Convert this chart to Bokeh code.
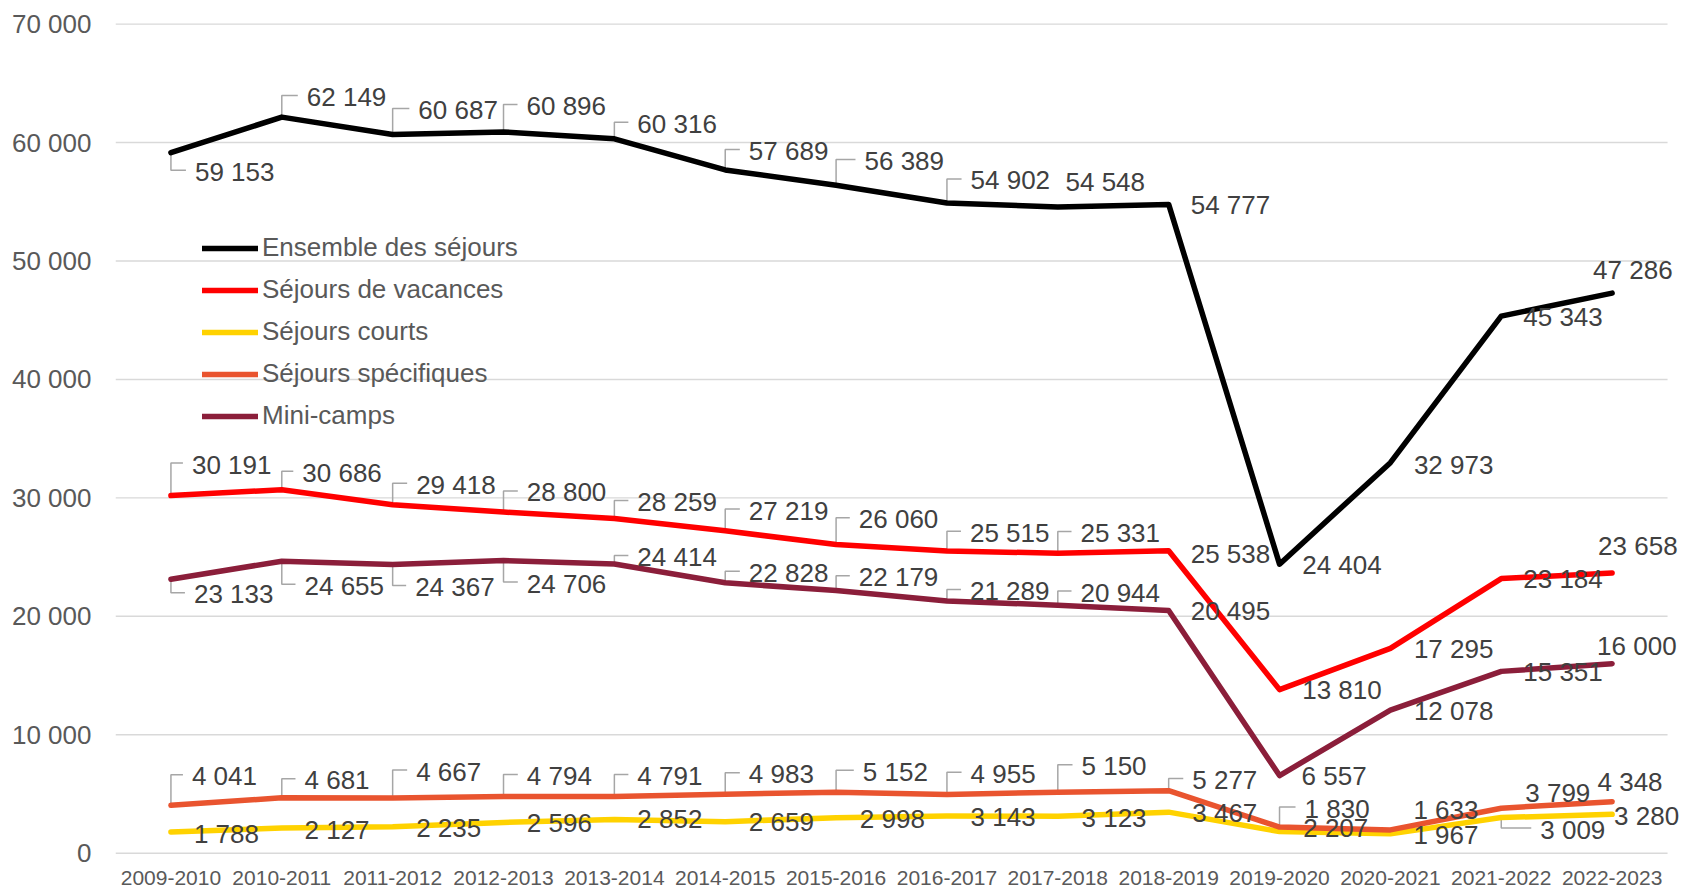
from bokeh.plotting import figure
from bokeh.models import Range1d, Legend, LegendItem, FixedTicker
from bokeh.embed import file_html
from bokeh.resources import INLINE
from bokeh.core.properties import value

# ---------------- data ----------------
seasons = ["2009-2010", "2010-2011", "2011-2012", "2012-2013", "2013-2014",
           "2014-2015", "2015-2016", "2016-2017", "2017-2018", "2018-2019",
           "2019-2020", "2020-2021", "2021-2022", "2022-2023"]
ensemble = [59153, 62149, 60687, 60896, 60316, 57689, 56389, 54902, 54548, 54777,
            24404, 32973, 45343, 47286]
vacances = [30191, 30686, 29418, 28800, 28259, 27219, 26060, 25515, 25331, 25538,
            13810, 17295, 23184, 23658]
courts = [1788, 2127, 2235, 2596, 2852, 2659, 2998, 3143, 3123, 3467,
          1830, 1633, 3009, 3280]
specifiques = [4041, 4681, 4667, 4794, 4791, 4983, 5152, 4955, 5150, 5277,
               2207, 1967, 3799, 4348]
minicamps = [23133, 24655, 24367, 24706, 24414, 22828, 22179, 21289, 20944, 20495,
             6557, 12078, 15351, 16000]
y_ticks = [0, 10000, 20000, 30000, 40000, 50000, 60000, 70000]

# label placement (screen px offsets from each point: text left, text middle)
ens_dx = [24, 25, 25.7, 23, 23, 23.6, 28.4, 23.6, 7.7, 22, 22.7, 23.5, 22, -19]
ens_dy = [19.2, -20, -24.5, -26, -15, -19, -24.3, -22.5, -25, 1, 1.3, 2, 1, -23.5]
ens_ld = [1, 1, 1, 1, 1, 1, 1, 1, 0, 0, 0, 0, 0, 0]
vac_dx = [21, 20.5, 23.5, 23.3, 23, 23.6, 22.7, 23, 22.7, 22, 22.7, 23.5, 22, -14]
vac_dy = [-31, -17, -20, -19.7, -16.4, -20.3, -25.2, -18.3, -20.2, 3, 0, 1, 0, -27]
vac_ld = [1, 1, 1, 1, 1, 1, 1, 1, 1, 0, 0, 0, 0, 0]
cou_dx = [23, 22.7, 23.5, 23.3, 23, 23.6, 23.7, 23.6, 23.7, 23.6, 25, 23, 39, 2]
cou_dy = [2, 1.5, 1, 0.7, 0, 0.6, 1, 1, 1.8, 1, -23, -23.4, 12, 2]
cou_ld = [0, 0, 0, 0, 0, 0, 0, 0, 0, 0, 1, 0, 1, 0]
spe_dx = [21, 22.7, 23.5, 23.3, 23, 23.6, 26.7, 23.6, 23.7, 23.6, 23.7, 23, 24, -14.6]
spe_dy = [-29, -17.6, -26.4, -20.5, -20.5, -20, -20.5, -20.7, -26, -10.7, 1, 5, -15, -20]
spe_ld = [1, 1, 1, 1, 1, 1, 1, 1, 1, 1, 0, 0, 0, 0]
min_dx = [23, 22.7, 22.5, 23.3, 23, 23.6, 22.7, 23, 22.7, 22, 22, 23.5, 22, -15]
min_dy = [15, 24.6, 22.3, 23, -7, -10, -13.3, -10, -12.6, 1, 0, 1, 1, -18]
min_ld = [1, 1, 1, 1, 1, 1, 1, 1, 1, 0, 0, 0, 0, 0]

series = [
    ("Ensemble des séjours", ensemble, "#000000", ens_dx, ens_dy, ens_ld),
    ("Séjours de vacances", vacances, "#FF0000", vac_dx, vac_dy, vac_ld),
    ("Séjours courts", courts, "#FFD200", cou_dx, cou_dy, cou_ld),
    ("Séjours spécifiques", specifiques, "#E9542F", spe_dx, spe_dy, spe_ld),
    ("Mini-camps", minicamps, "#8B1E3A", min_dx, min_dy, min_ld),
]

# ---------------- layout ----------------
FONT = "Liberation Sans"
W, H = 1684, 887
ML, MT, MB = 115, 16, 30
FW, FH = W - ML, H - MT - MB
CAT_PX = 110.86
X0 = -0.5
X1 = X0 + FW / CAT_PX
Y0, Y1 = -363, 70642
SX = (X1 - X0) / FW      # x units per px
SY = (Y1 - Y0) / FH      # y units per px


def fmt(v):
    return f"{v:,}".replace(",", " ")


p = figure(width=W, height=H, x_range=Range1d(X0, X1), y_range=Range1d(Y0, Y1),
           output_backend="svg", toolbar_location=None,
           min_border_left=ML, min_border_right=0, min_border_top=MT,
           min_border_bottom=MB)
p.outline_line_color = None
p.background_fill_color = "white"
p.border_fill_color = "white"
p.xgrid.visible = False
p.ygrid.visible = False

# gridlines
n = len(seasons)
p.segment(x0=[-0.5] * len(y_ticks), x1=[n - 0.5] * len(y_ticks), y0=y_ticks, y1=y_ticks,
          line_color="#D9D9D9", line_width=1.4)

# axes
p.yaxis.ticker = FixedTicker(ticks=y_ticks)
p.yaxis.major_label_overrides = {t: fmt(t) for t in y_ticks}
p.xaxis.ticker = FixedTicker(ticks=list(range(n)))
p.xaxis.major_label_overrides = {i: s for i, s in enumerate(seasons)}
for ax in (p.xaxis[0], p.yaxis[0]):
    ax.axis_line_color = None
    ax.major_tick_line_color = None
    ax.minor_tick_line_color = None
    ax.major_tick_out = 0
    ax.major_tick_in = 0
    ax.minor_tick_out = 0
    ax.major_label_text_font = FONT
    ax.major_label_text_color = "#595959"
p.yaxis.major_label_text_font_size = "26px"
p.yaxis.major_label_standoff = 24
p.xaxis.major_label_text_font_size = "21px"
p.xaxis.major_label_standoff = 13

xs_idx = list(range(n))

# leader lines (under series lines)
lead_xs, lead_ys = [], []
for name, vals, color, dxs, dys, lds in series:
    for i, v in enumerate(vals):
        if lds[i]:
            hy = v - (dys[i] - 1.5) * SY
            hx = i + (dxs[i] - 9) * SX
            lead_xs.append([i, i, hx])
            lead_ys.append([v, hy, hy])
p.multi_line(xs=lead_xs, ys=lead_ys, line_color="#A6A6A6", line_width=1.5)

# series lines
renderers = []
for name, vals, color, dxs, dys, lds in series:
    r = p.line(xs_idx, vals, line_color=color, line_width=5.5,
               line_cap="round", line_join="round")
    renderers.append((name, r))

# data labels
for name, vals, color, dxs, dys, lds in series:
    tx = [i + dxs[i] * SX for i in range(n)]
    ty = [v - dys[i] * SY for i, v in enumerate(vals)]
    p.text(x=tx, y=ty, text=[fmt(v) for v in vals], text_font=value(FONT),
           text_font_size="26px", text_color="#404040", text_align="left",
           text_baseline="middle")

legend = Legend(items=[LegendItem(label=name, renderers=[r]) for name, r in renderers],
                location=(87, 426), orientation="vertical")
legend.label_text_font = FONT
legend.label_text_font_size = "26px"
legend.label_text_color = "#595959"
legend.glyph_width = 56
legend.glyph_height = 30
legend.label_height = 30
legend.label_standoff = 4
legend.spacing = 11
legend.padding = 0
legend.margin = 0
legend.background_fill_alpha = 0
legend.border_line_alpha = 0
p.add_layout(legend)

open("out.html", "w").write(file_html(p, INLINE))
